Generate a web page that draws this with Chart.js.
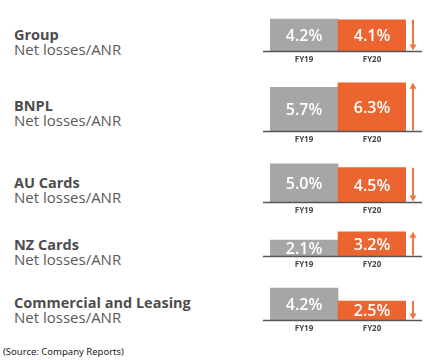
<!DOCTYPE html>
<html>
<head>
<meta charset="utf-8">
<script src="https://cdn.jsdelivr.net/npm/chart.js@4.4.1/dist/chart.umd.min.js"></script>
<style>
    body { margin: 0; background: #fff; }
    #wrap { position: relative; width: 431px; height: 361px; overflow: hidden; font-family: 'Open Sans', sans-serif; }
    .label { position: absolute; left: 14px; line-height: 15px; }
    .label b { display: block; font-size: 14.5px; font-weight: 700; color: #4d4d4d; }
    .label span { display: block; font-size: 15px; color: #5a5a5a; }
    .panel { position: absolute; left: 250px; width: 181px; height: 72px; }
    #source { position: absolute; left: 3px; top: 345px; font-size: 9.5px; color: #222; font-family: 'Noto Sans', sans-serif; }
</style>
</head>
<body>
<div id="wrap">
    <div id="source">(Source: Company Reports)</div>
</div>
<script>
// data
const segments = ['Group', 'BNPL', 'AU Cards', 'NZ Cards', 'Commercial and Leasing'];
const metric = 'Net losses/ANR';
const periods = ['FY19', 'FY20'];
const fy19 = [4.2, 5.7, 5.0, 2.1, 4.2];
const fy20 = [4.1, 6.3, 4.5, 3.2, 2.5];

// layout: baseline y of each panel and top of each label block
const baseY = [53, 133, 204, 258, 322];
const labelTop = [27, 98, 175, 237, 295];
const plotH = 56;   // px of chart area above baseline
const yMax = 7.05;  // value at the top of the chart area

const GREY = '#a6a6a6';
const ORANGE = '#ec6430';

// white value label inside each bar, baseline extended, change arrow on the right
const panelDecor = {
    id: 'panelDecor',
    afterDatasetsDraw(chart) {
        const ctx = chart.ctx;
        const area = chart.chartArea;
        const y = chart.scales.y;
        const vals = chart.data.datasets[0].data;
        const bars = chart.getDatasetMeta(0).data;

        ctx.save();
        ctx.strokeStyle = '#555';
        ctx.lineWidth = 1.5;
        ctx.beginPath();
        ctx.moveTo(area.left - 7, y.getPixelForValue(0));
        ctx.lineTo(area.right + 16, y.getPixelForValue(0));
        ctx.stroke();

        ctx.fillStyle = '#fff';
        ctx.font = '600 16px "Open Sans"';
        ctx.textAlign = 'center';
        ctx.textBaseline = 'middle';
        bars.forEach((bar, i) => {
            ctx.fillText(vals[i].toFixed(1) + '%', bar.x, (bar.y + bar.base) / 2 + 1);
        });

        // arrow spans the FY20 bar
        const ax = area.right + 7;
        const top = y.getPixelForValue(vals[1]);
        const bottom = y.getPixelForValue(0) - 1;
        const up = vals[1] > vals[0];
        ctx.strokeStyle = '#ef7440';
        ctx.fillStyle = '#ef7440';
        ctx.lineWidth = 2;
        ctx.beginPath();
        if (up) {
            ctx.moveTo(ax, bottom);
            ctx.lineTo(ax, top + 5);
        } else {
            ctx.moveTo(ax, top);
            ctx.lineTo(ax, bottom - 5);
        }
        ctx.stroke();
        ctx.beginPath();
        if (up) {
            ctx.moveTo(ax, top);
            ctx.lineTo(ax - 3.5, top + 6);
            ctx.lineTo(ax + 3.5, top + 6);
        } else {
            ctx.moveTo(ax, bottom);
            ctx.lineTo(ax - 3.5, bottom - 6);
            ctx.lineTo(ax + 3.5, bottom - 6);
        }
        ctx.closePath();
        ctx.fill();
        ctx.restore();
    }
};

const wrap = document.getElementById('wrap');

segments.forEach((name, i) => {
    const lab = document.createElement('div');
    lab.className = 'label';
    lab.style.top = labelTop[i] + 'px';
    lab.innerHTML = '<b>' + name + '</b><span>' + metric + '</span>';
    wrap.appendChild(lab);

    const box = document.createElement('div');
    box.className = 'panel';
    box.style.top = (baseY[i] - plotH) + 'px';
    const cv = document.createElement('canvas');
    box.appendChild(cv);
    wrap.appendChild(box);

    new Chart(cv, {
        type: 'bar',
        data: {
            labels: periods,
            datasets: [{
                data: [fy19[i], fy20[i]],
                backgroundColor: [GREY, ORANGE],
                barPercentage: 1,
                categoryPercentage: 1
            }]
        },
        options: {
            responsive: true,
            maintainAspectRatio: false,
            animation: false,
            events: [],
            layout: { padding: { left: 20, right: 25, top: 0, bottom: 0 } },
            plugins: {
                legend: { display: false },
                tooltip: { enabled: false }
            },
            scales: {
                y: {
                    display: false,
                    min: 0,
                    max: yMax
                },
                x: {
                    grid: { display: false, drawTicks: false },
                    border: { display: false },
                    ticks: {
                        color: '#444',
                        padding: 4,
                        font: { size: 8, weight: 'bold', family: 'Open Sans' }
                    }
                }
            }
        },
        plugins: [panelDecor]
    });
});
</script>
</body>
</html>
